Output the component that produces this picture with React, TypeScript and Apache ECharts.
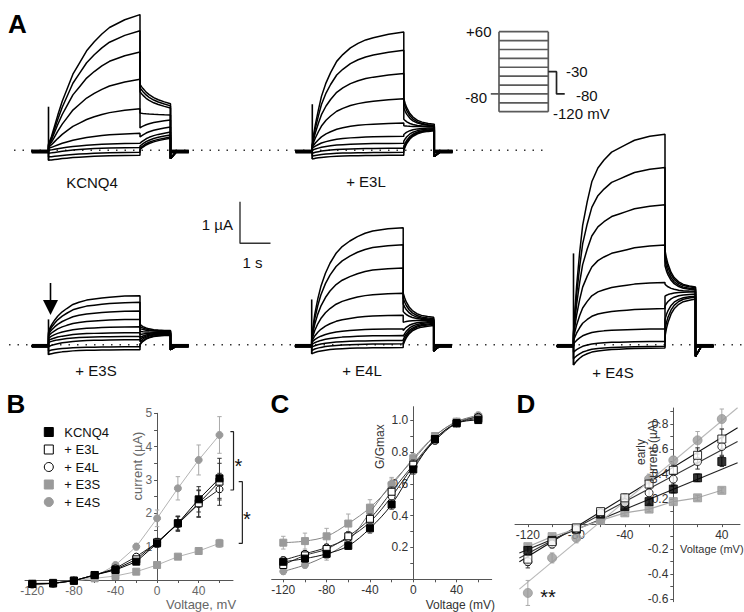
import React, { useEffect, useRef } from "react";
import * as echarts from "echarts";

const FONT = "'Liberation Sans', Arial, Helvetica, sans-serif";

// ---------------- Panel A: current traces ----------------
const stepVoltages = [-120, -100, -80, -60, -40, -20, 0, 20, 40, 60];
const stepTimes = [0, 0.05, 0.1, 0.2, 0.3, 0.45, 0.6, 0.8, 1.0, 1.25, 1.5, 1.75, 2.0, 2.5, 3.0];
const tailTimes = [0, 0.05, 0.1, 0.2, 0.3, 0.45, 0.6, 0.8, 1.0];

// KCNQ4 (µA, one value per sweep -120..+60 mV)
const kcnq4Start = [-0.24, -0.16, -0.07, 0.0, 0.05, 0.08, 0.1, 0.12, 0.13, 0.15];
const kcnq4End = [-0.12, -0.05, 0.07, 0.17, 0.41, 1.0, 1.71, 2.37, 2.88, 3.27];
const kcnq4TailStart = [0.02, 0.05, 0.1, 0.17, 0.32, 0.54, 0.9, 1.41, 1.51, 1.59];
const kcnq4TailEnd = [0.29, 0.32, 0.37, 0.44, 0.56, 0.73, 0.85, 1.02, 1.07, 1.12];
const kcnq4Shape = [0, 0.03, 0.06, 0.14, 0.22, 0.33, 0.42, 0.54, 0.62, 0.72, 0.79, 0.85, 0.9, 0.96, 1.0];
const kcnq4Tail = [0, 0.12, 0.22, 0.4, 0.53, 0.68, 0.79, 0.9, 1.0];
const kcnq4Spike = [-0.24, 1.05];

// + E3L
const e3lStart = [-0.21, -0.14, -0.07, 0.0, 0.05, 0.07, 0.09, 0.11, 0.12, 0.13];
const e3lEnd = [-0.12, -0.05, 0.05, 0.17, 0.34, 0.66, 1.24, 1.85, 2.41, 2.85];
const e3lTailStart = [0, 0.03, 0.1, 0.22, 0.38, 0.59, 0.75, 1.02, 1.15, 1.24];
const e3lTailEnd = [0.47, 0.49, 0.5, 0.52, 0.54, 0.57, 0.57, 0.59, 0.6, 0.63];
const e3lShape = [0, 0.1, 0.18, 0.31, 0.43, 0.55, 0.64, 0.74, 0.8, 0.86, 0.9, 0.93, 0.95, 0.98, 1.0];
const e3lTail = [0, 0.2, 0.36, 0.58, 0.72, 0.85, 0.92, 0.97, 1.0];
const e3lSpike = [-0.21, 1.11];

// + E3S
const e3sStart = [-0.24, -0.15, -0.05, 0.05, 0.1, 0.15, 0.2, 0.24, 0.27, 0.3];
const e3sEnd = [-0.12, -0.05, 0.12, 0.2, 0.29, 0.43, 0.61, 0.81, 1.02, 1.18];
const e3sTailStart = [0, 0.02, 0.07, 0.12, 0.17, 0.24, 0.32, 0.39, 0.44, 0.49];
const e3sTailEnd = [0.23, 0.24, 0.26, 0.27, 0.28, 0.29, 0.3, 0.32, 0.33, 0.34];
const e3sShape = [0, 0.12, 0.2, 0.33, 0.44, 0.56, 0.65, 0.76, 0.82, 0.88, 0.91, 0.94, 0.96, 0.99, 1.0];
const e3sTail = [0, 0.2, 0.36, 0.58, 0.72, 0.85, 0.92, 0.97, 1.0];
const e3sSpike = [-0.24, 0.61];

// + E4L
const e4lStart = [-0.22, -0.14, -0.06, 0.0, 0.05, 0.07, 0.09, 0.11, 0.12, 0.14];
const e4lEnd = [-0.07, 0.02, 0.1, 0.22, 0.38, 0.71, 1.24, 1.85, 2.41, 2.82];
const e4lTailStart = [0, 0.05, 0.12, 0.2, 0.34, 0.54, 0.8, 0.98, 1.12, 1.24];
const e4lTailEnd = [0.46, 0.49, 0.51, 0.54, 0.56, 0.59, 0.6, 0.61, 0.63, 0.66];
const e4lShape = [0, 0.12, 0.22, 0.36, 0.47, 0.59, 0.68, 0.77, 0.83, 0.88, 0.92, 0.95, 0.97, 0.99, 1.0];
const e4lTail = [0, 0.2, 0.36, 0.58, 0.72, 0.85, 0.92, 0.97, 1.0];
const e4lSpike = [-0.22, 1.09];

// + E4S
const e4sStart = [-0.49, -0.34, -0.18, 0.02, 0.1, 0.16, 0.2, 0.24, 0.27, 0.3];
const e4sEnd = [-0.08, -0.04, 0.08, 0.38, 0.87, 1.5, 2.4, 3.37, 4.27, 5.07];
const e4sTailStart = [0.2, 0.37, 0.61, 0.93, 1.17, 1.46, 1.9, 2.02, 2.15, 2.27];
const e4sTailEnd = [1.1, 1.15, 1.17, 1.22, 1.27, 1.29, 1.32, 1.34, 1.37, 1.39];
const e4sShape = [0, 0.12, 0.23, 0.4, 0.54, 0.66, 0.76, 0.83, 0.87, 0.91, 0.93, 0.95, 0.97, 0.99, 1.0];
const e4sTail = [0, 0.22, 0.38, 0.6, 0.74, 0.86, 0.93, 0.97, 1.0];
const e4sSpike = [-0.49, 2.2];

// protocol (mV)
const protocolHold = -80;
const protocolTail = -30;

// ---------------- Panel B: steady-state current (µA) ----------------
const ivVoltages = [-120, -100, -80, -60, -40, -20, 0, 20, 40, 60];
const bKCNQ4 = [-0.12, -0.1, -0.02, 0.15, 0.3, 0.55, 1.1, 1.7, 2.42, 3.05];
const bE3L = [-0.12, -0.1, -0.02, 0.15, 0.32, 0.62, 1.13, 1.7, 2.3, 2.95];
const bE4L = [-0.12, -0.1, -0.02, 0.15, 0.35, 0.7, 1.12, 1.68, 2.28, 2.72];
const bE3S = [-0.1, -0.08, -0.03, 0.05, 0.12, 0.25, 0.45, 0.7, 0.87, 1.1];
const bE4S = [-0.15, -0.12, -0.02, 0.1, 0.45, 1.0, 1.85, 2.75, 3.6, 4.35];
const bErrKCNQ4 = [0.03, 0.03, 0.03, 0.04, 0.05, 0.07, 0.12, 0.2, 0.38, 0.6];
const bErrE3L = [0.03, 0.03, 0.03, 0.04, 0.05, 0.07, 0.12, 0.22, 0.4, 0.55];
const bErrE4L = [0.03, 0.03, 0.03, 0.04, 0.05, 0.07, 0.12, 0.22, 0.4, 0.48];
const bErrE3S = [0.02, 0.02, 0.02, 0.02, 0.03, 0.03, 0.05, 0.05, 0.06, 0.12];
const bErrE4S = [0.03, 0.03, 0.03, 0.04, 0.06, 0.1, 0.25, 0.35, 0.45, 0.55];
const bBracket1 = [2.7, 4.45];
const bBracket2 = [1.1, 2.95];

// ---------------- Panel C: G/Gmax ----------------
const cKCNQ4 = [0.11, 0.13, 0.16, 0.21, 0.32, 0.47, 0.69, 0.88, 0.98, 1.0];
const cE3L = [0.09, 0.15, 0.19, 0.27, 0.38, 0.55, 0.72, 0.88, 0.98, 1.01];
const cE4L = [0.12, 0.16, 0.2, 0.26, 0.36, 0.52, 0.71, 0.87, 0.98, 1.02];
const cE3S = [0.23, 0.24, 0.27, 0.35, 0.45, 0.59, 0.76, 0.9, 0.99, 1.02];
const cE4S = [0.05, 0.09, 0.15, 0.24, 0.42, 0.6, 0.75, 0.9, 0.99, 1.03];
const cErrKCNQ4 = [0.02, 0.02, 0.02, 0.02, 0.03, 0.03, 0.03, 0.02, 0.02, 0.02];
const cErrE3L = [0.02, 0.02, 0.02, 0.03, 0.03, 0.03, 0.03, 0.02, 0.02, 0.02];
const cErrE4L = [0.02, 0.02, 0.02, 0.03, 0.03, 0.03, 0.03, 0.02, 0.02, 0.02];
const cErrE3S = [0.04, 0.05, 0.05, 0.06, 0.05, 0.04, 0.03, 0.02, 0.02, 0.02];
const cErrE4S = [0.02, 0.02, 0.03, 0.03, 0.05, 0.04, 0.03, 0.02, 0.02, 0.02];

// ---------------- Panel D: early current (µA) ----------------
const earlyVoltages = [-120, -100, -80, -60, -40, -20, 0, 20, 40];
const dKCNQ4 = [-0.21, -0.13, -0.04, 0.08, 0.14, 0.18, 0.28, 0.37, 0.5];
const dE3L = [-0.28, -0.14, -0.03, 0.1, 0.21, 0.32, 0.43, 0.55, 0.68];
const dE4L = [-0.3, -0.16, -0.04, 0.09, 0.17, 0.25, 0.36, 0.5, 0.62];
const dE3S = [-0.18, -0.1, -0.04, 0.03, 0.09, 0.12, 0.18, 0.21, 0.27];
const dE4S = [-0.55, -0.27, -0.11, 0.04, 0.2, 0.36, 0.51, 0.67, 0.84];
const dErrKCNQ4 = [0.03, 0.02, 0.02, 0.02, 0.02, 0.02, 0.03, 0.03, 0.04];
const dErrE3L = [0.05, 0.03, 0.02, 0.02, 0.03, 0.03, 0.04, 0.06, 0.08];
const dErrE4L = [0.05, 0.03, 0.02, 0.02, 0.03, 0.03, 0.04, 0.06, 0.07];
const dErrE3S = [0.02, 0.02, 0.02, 0.02, 0.02, 0.02, 0.02, 0.02, 0.02];
const dErrE4S = [0.1, 0.04, 0.04, 0.03, 0.03, 0.04, 0.03, 0.07, 0.08];
const dFitVoltages = [-127, 53];
const dFitKCNQ4 = [-0.23, 0.49];
const dFitE3L = [-0.3, 0.77];
const dFitE4L = [-0.27, 0.66];
const dFitE4S = [-0.52, 0.93];

// ---------------- layout constants ----------------
const PX_PER_S = 30.5;
const PX_PER_UA = 41.5;
const T_MIN = -0.6;
const T_MAX = 4.8;
const PRE = -0.55;
const STEP_END = 3;
const TAIL_END = 4;
const POST = 4.6;
const HOLD = -0.03;

const rows = [
  { baseline: 150.3, yMin: -0.5, yMax: 3.5 },
  { baseline: 344.7, yMin: -0.7, yMax: 5.3 },
];

const cells = [
  { name: "KCNQ4", row: 0, stepX: 48.5, start: kcnq4Start, end: kcnq4End, tailStart: kcnq4TailStart, tailEnd: kcnq4TailEnd, shape: kcnq4Shape, tail: kcnq4Tail, spike: kcnq4Spike, off: -0.2 },
  { name: "+ E3L", row: 0, stepX: 312.3, start: e3lStart, end: e3lEnd, tailStart: e3lTailStart, tailEnd: e3lTailEnd, shape: e3lShape, tail: e3lTail, spike: e3lSpike, off: -0.15 },
  { name: "+ E3S", row: 1, stepX: 48.5, start: e3sStart, end: e3sEnd, tailStart: e3sTailStart, tailEnd: e3sTailEnd, shape: e3sShape, tail: e3sTail, spike: e3sSpike, off: -0.12 },
  { name: "+ E4L", row: 1, stepX: 311.7, start: e4lStart, end: e4lEnd, tailStart: e4lTailStart, tailEnd: e4lTailEnd, shape: e4lShape, tail: e4lTail, spike: e4lSpike, off: -0.15 },
  { name: "+ E4S", row: 1, stepX: 573.5, start: e4sStart, end: e4sEnd, tailStart: e4sTailStart, tailEnd: e4sTailEnd, shape: e4sShape, tail: e4sTail, spike: e4sSpike, off: -0.28 },
];

const NAMES = ["KCNQ4", "+ E3L", "+ E4L", "+ E3S", "+ E4S"];
const GRAY = "#9a9a9a";
const markerStyle: Record<string, any> = {
  KCNQ4: { symbol: "rect", itemStyle: { color: "#000", borderColor: "#000", borderWidth: 1 } },
  "+ E3L": { symbol: "rect", itemStyle: { color: "#fff", borderColor: "#000", borderWidth: 1 } },
  "+ E4L": { symbol: "circle", itemStyle: { color: "#fff", borderColor: "#000", borderWidth: 1 } },
  "+ E3S": { symbol: "rect", itemStyle: { color: GRAY, borderColor: GRAY, borderWidth: 1 } },
  "+ E4S": { symbol: "circle", itemStyle: { color: GRAY, borderColor: GRAY, borderWidth: 1 } },
};

function sweepData(c: any, i: number) {
  const pts: number[][] = [[PRE, HOLD], [0, HOLD], [0, c.start[i]]];
  stepTimes.forEach((t, k) => pts.push([t, c.start[i] + (c.end[i] - c.start[i]) * c.shape[k]]));
  pts.push([STEP_END, c.tailStart[i]]);
  tailTimes.forEach((t, k) => pts.push([STEP_END + t, c.tailStart[i] + (c.tailEnd[i] - c.tailStart[i]) * c.tail[k]]));
  pts.push([TAIL_END, c.off]);
  pts.push([TAIL_END + 0.2, HOLD]);
  pts.push([POST, HOLD]);
  return pts;
}

function errorBarSeries(gi: number, xs: number[], ys: number[], errs: number[], color: string, z: number) {
  return {
    type: "custom",
    xAxisIndex: gi,
    yAxisIndex: gi,
    silent: true,
    clip: false,
    z,
    data: xs.map((x, i) => [x, ys[i], errs[i]]),
    encode: { x: 0, y: 1 },
    renderItem: (params: any, api: any) => {
      const x = api.value(0);
      const y = api.value(1);
      const e = api.value(2);
      const top = api.coord([x, y + e]);
      const bot = api.coord([x, y - e]);
      const w = 2.2;
      const st = { stroke: color, lineWidth: 1, fill: "none" };
      return {
        type: "group",
        children: [
          { type: "line", shape: { x1: top[0], y1: top[1], x2: bot[0], y2: bot[1] }, style: st },
          { type: "line", shape: { x1: top[0] - w, y1: top[1], x2: top[0] + w, y2: top[1] }, style: st },
          { type: "line", shape: { x1: bot[0] - w, y1: bot[1], x2: bot[0] + w, y2: bot[1] }, style: st },
        ],
      };
    },
  };
}

// place an axis line (with its labels) on the other axis's zero, inside the grid
function zeroOffsetY(g: any, xMin: number, xMax: number) {
  return -((0 - xMin) / (xMax - xMin)) * g.width;
}
function zeroOffsetX(g: any, yMin: number, yMax: number) {
  return -((0 - yMin) / (yMax - yMin)) * g.height;
}

function buildOption() {
  const grid: any[] = [];
  const xAxis: any[] = [];
  const yAxis: any[] = [];
  const series: any[] = [];
  const add = (g: any, x: any, y: any) => {
    const i = grid.length;
    grid.push({ ...g, containLabel: false, outerBoundsMode: "none" });
    xAxis.push({ gridIndex: i, type: "value", splitLine: { show: false }, ...x });
    yAxis.push({ gridIndex: i, type: "value", splitLine: { show: false }, ...y });
    return i;
  };
  const lineBase = { type: "line", showSymbol: false, symbol: "none", silent: true, clip: false, animation: false };

  // ---- Row dotted baselines ----
  const rowSpans = [
    { left: 14, width: 532 },
    { left: 9, width: 735 },
  ];
  rows.forEach((r, ri) => {
    const gi = add(
      { left: rowSpans[ri].left, width: rowSpans[ri].width, top: r.baseline - r.yMax * PX_PER_UA, height: (r.yMax - r.yMin) * PX_PER_UA },
      { show: false, min: 0, max: 1 },
      { show: false, min: r.yMin, max: r.yMax }
    );
    series.push({ ...lineBase, xAxisIndex: gi, yAxisIndex: gi, z: 1, data: [[0, 0], [1, 0]], lineStyle: { color: "#333", width: 1.5, type: [1.5, 7] } });
  });

  // ---- Trace cells ----
  cells.forEach((c) => {
    const r = rows[c.row];
    const gi = add(
      {
        left: c.stepX + T_MIN * PX_PER_S,
        width: (T_MAX - T_MIN) * PX_PER_S,
        top: r.baseline - r.yMax * PX_PER_UA,
        height: (r.yMax - r.yMin) * PX_PER_UA,
      },
      { show: false, min: T_MIN, max: T_MAX },
      { show: false, min: r.yMin, max: r.yMax }
    );
    stepVoltages.forEach((v, i) => {
      series.push({ ...lineBase, name: c.name + " " + v + " mV", xAxisIndex: gi, yAxisIndex: gi, z: 3, data: sweepData(c, i), lineStyle: { color: "#000", width: 1.5 } });
    });
    series.push({ ...lineBase, xAxisIndex: gi, yAxisIndex: gi, z: 4, data: [[0, c.spike[0]], [0, c.spike[1]]], lineStyle: { color: "#000", width: 1.6 } });
    series.push({ ...lineBase, xAxisIndex: gi, yAxisIndex: gi, z: 4, data: [[PRE, HOLD], [0, HOLD]], lineStyle: { color: "#000", width: 4 } });
    series.push({ ...lineBase, xAxisIndex: gi, yAxisIndex: gi, z: 4, data: [[TAIL_END, HOLD], [POST, HOLD]], lineStyle: { color: "#000", width: 4 } });
  });

  // ---- Scale bar ----
  {
    const gi = add({ left: 240, top: 201.7, width: PX_PER_S, height: PX_PER_UA }, { show: false, min: 0, max: 1 }, { show: false, min: 0, max: 1 });
    series.push({ ...lineBase, xAxisIndex: gi, yAxisIndex: gi, z: 5, data: [[0, 1], [0, 0], [1, 0]], lineStyle: { color: "#333", width: 1.4 } });
  }

  // ---- Voltage protocol ----
  {
    const pxs = 49.3 / 3;
    const gi = add({ left: 499 - 0.5 * pxs, top: 31.7, width: 4.5 * pxs, height: 80 }, { show: false, min: -0.5, max: 4 }, { show: false, min: -120, max: 60 });
    const pst = { color: "#5a5a5a", width: 1.7 };
    stepVoltages.forEach((v) => series.push({ ...lineBase, xAxisIndex: gi, yAxisIndex: gi, data: [[0, v], [3, v]], lineStyle: pst }));
    series.push({ ...lineBase, xAxisIndex: gi, yAxisIndex: gi, data: [[0, stepVoltages[0]], [0, stepVoltages[stepVoltages.length - 1]]], lineStyle: pst });
    series.push({ ...lineBase, xAxisIndex: gi, yAxisIndex: gi, data: [[3, stepVoltages[0]], [3, stepVoltages[stepVoltages.length - 1]]], lineStyle: pst });
    series.push({ ...lineBase, xAxisIndex: gi, yAxisIndex: gi, data: [[-0.5, protocolHold], [0, protocolHold]], lineStyle: pst });
    series.push({
      ...lineBase, xAxisIndex: gi, yAxisIndex: gi,
      data: [[3, protocolTail], [3.5, protocolTail], [3.5, protocolHold], [4, protocolHold]],
      lineStyle: { color: "#222", width: 1.7 },
    });
  }

  const tick = (vals: number[]) => ({ show: true, length: 3, lineStyle: { color: "#555" }, customValues: vals });
  const lab = (color: string, vals: number[], fmt?: (v: number) => string) => ({
    color, fontSize: 12, fontFamily: FONT, margin: 5, customValues: vals, ...(fmt ? { formatter: fmt } : {}),
  });
  const aLine = { show: true, onZero: false, lineStyle: { color: "#555", width: 1 } };
  const fmt1 = (v: number) => v.toFixed(1);

  // ---- Panel B ----
  {
    const g = { left: 25, top: 413.3, width: 208, height: 166.7 };
    const xr = [-127, 73];
    const yr = [0, 5];
    const gi = add(
      g,
      { min: xr[0], max: xr[1], position: "bottom", offset: zeroOffsetX(g, yr[0], yr[1]), axisLine: aLine, axisLabel: lab("#666", [-120, -80, -40, 0, 40]), axisTick: tick([-120, -100, -80, -60, -40, -20, 0, 20, 40, 60]) },
      { min: yr[0], max: yr[1], position: "left", offset: zeroOffsetY(g, xr[0], xr[1]), axisLine: aLine, axisLabel: lab("#666", [1, 2, 3, 4, 5]), axisTick: tick([0.5, 1, 1.5, 2, 2.5, 3, 3.5, 4, 4.5, 5]) }
    );
    const bData: Record<string, number[]> = { KCNQ4: bKCNQ4, "+ E3L": bE3L, "+ E4L": bE4L, "+ E3S": bE3S, "+ E4S": bE4S };
    const bErr: Record<string, number[]> = { KCNQ4: bErrKCNQ4, "+ E3L": bErrE3L, "+ E4L": bErrE4L, "+ E3S": bErrE3S, "+ E4S": bErrE4S };
    const lineColor: Record<string, string> = { KCNQ4: "#000", "+ E3L": "#111", "+ E4L": "#222", "+ E3S": "#b3b3b3", "+ E4S": "#b3b3b3" };
    const order = ["+ E3S", "+ E4S", "+ E4L", "+ E3L", "KCNQ4"];
    order.forEach((n, k) => {
      const errColor = n === "+ E3S" || n === "+ E4S" ? "#aaa" : "#333";
      series.push(errorBarSeries(gi, ivVoltages, bData[n], bErr[n], errColor, 6 + k));
      series.push({
        type: "line", name: n, xAxisIndex: gi, yAxisIndex: gi, clip: false, silent: true, z: 7 + k,
        data: ivVoltages.map((v, i) => [v, bData[n][i]]),
        symbol: markerStyle[n].symbol, symbolSize: 7, showSymbol: true,
        itemStyle: markerStyle[n].itemStyle,
        lineStyle: { color: lineColor[n], width: 1 },
      });
    });
    // significance brackets: hidden overlay with the same current scale, wider voltage range
    const pxPerMv = g.width / (xr[1] - xr[0]);
    const og = { left: g.left, top: g.top, width: g.width + 30, height: g.height };
    const oi = add(og, { show: false, min: xr[0], max: xr[0] + og.width / pxPerMv }, { show: false, min: yr[0], max: yr[1] });
    const brStyle = { color: "#222", width: 1.2 };
    series.push({ ...lineBase, xAxisIndex: oi, yAxisIndex: oi, z: 10, data: [[70.5, bBracket1[1]], [73.5, bBracket1[1]], [73.5, bBracket1[0]], [70.5, bBracket1[0]]], lineStyle: brStyle });
    series.push({ ...lineBase, xAxisIndex: oi, yAxisIndex: oi, z: 10, data: [[78.5, bBracket2[1]], [82, bBracket2[1]], [82, bBracket2[0]], [78.5, bBracket2[0]]], lineStyle: brStyle });
  }

  // ---- Panel C ----
  {
    const g = { left: 271.7, top: 406.7, width: 220, height: 172.6 };
    const xr = [-130.7, 72.4];
    const yr = [0, 1.084];
    const gi = add(
      g,
      { min: xr[0], max: xr[1], position: "bottom", offset: zeroOffsetX(g, yr[0], yr[1]), axisLine: aLine, axisLabel: lab("#333", [-120, -80, -40, 0, 40]), axisTick: tick([-120, -100, -80, -60, -40, -20, 0, 20, 40, 60]) },
      { min: yr[0], max: yr[1], position: "left", offset: zeroOffsetY(g, xr[0], xr[1]), axisLine: aLine, axisLabel: lab("#333", [0.2, 0.4, 0.6, 0.8, 1.0], fmt1), axisTick: tick([0.1, 0.2, 0.3, 0.4, 0.5, 0.6, 0.7, 0.8, 0.9, 1.0]) }
    );
    const cData: Record<string, number[]> = { KCNQ4: cKCNQ4, "+ E3L": cE3L, "+ E4L": cE4L, "+ E3S": cE3S, "+ E4S": cE4S };
    const cErr: Record<string, number[]> = { KCNQ4: cErrKCNQ4, "+ E3L": cErrE3L, "+ E4L": cErrE4L, "+ E3S": cErrE3S, "+ E4S": cErrE4S };
    const lineColor: Record<string, string> = { KCNQ4: "#111", "+ E3L": "#333", "+ E4L": "#222", "+ E3S": "#888", "+ E4S": "#777" };
    const order = ["+ E3S", "+ E4S", "+ E4L", "+ E3L", "KCNQ4"];
    order.forEach((n, k) => {
      const errColor = n === "+ E3S" || n === "+ E4S" ? "#aaa" : "#444";
      series.push(errorBarSeries(gi, ivVoltages, cData[n], cErr[n], errColor, 6 + k));
      series.push({
        type: "line", name: n, xAxisIndex: gi, yAxisIndex: gi, clip: false, silent: true, z: 7 + k,
        data: ivVoltages.map((v, i) => [v, cData[n][i]]),
        smooth: 0.35,
        symbol: markerStyle[n].symbol, symbolSize: 7, showSymbol: true,
        itemStyle: markerStyle[n].itemStyle,
        lineStyle: { color: lineColor[n], width: 1 },
      });
    });
  }

  // ---- Panel D ----
  {
    const g = { left: 515, top: 408, width: 225, height: 193.7 };
    const xr = [-130.6, 55];
    const yr = [-0.62, 0.928];
    const gi = add(
      g,
      { min: xr[0], max: xr[1], position: "bottom", offset: zeroOffsetX(g, yr[0], yr[1]), axisLine: aLine, axisLabel: lab("#333", [-120, -80, -40, 40]), axisTick: tick([-120, -100, -80, -60, -40, -20, 0, 20, 40]) },
      { min: yr[0], max: yr[1], position: "left", offset: zeroOffsetY(g, xr[0], xr[1]), axisLine: aLine, axisLabel: lab("#333", [-0.6, -0.4, -0.2, 0.2, 0.4, 0.6, 0.8], fmt1), axisTick: tick([-0.6, -0.5, -0.4, -0.3, -0.2, -0.1, 0.1, 0.2, 0.3, 0.4, 0.5, 0.6, 0.7, 0.8, 0.9]) }
    );
    const dData: Record<string, number[]> = { KCNQ4: dKCNQ4, "+ E3L": dE3L, "+ E4L": dE4L, "+ E3S": dE3S, "+ E4S": dE4S };
    const dErr: Record<string, number[]> = { KCNQ4: dErrKCNQ4, "+ E3L": dErrE3L, "+ E4L": dErrE4L, "+ E3S": dErrE3S, "+ E4S": dErrE4S };
    const fits: Record<string, number[]> = { KCNQ4: dFitKCNQ4, "+ E3L": dFitE3L, "+ E4L": dFitE4L, "+ E4S": dFitE4S };
    const fitColor: Record<string, string> = { KCNQ4: "#222", "+ E3L": "#111", "+ E4L": "#333", "+ E4S": "#b8b8b8" };
    Object.keys(fits).forEach((n) => {
      series.push({ ...lineBase, xAxisIndex: gi, yAxisIndex: gi, z: 4, data: dFitVoltages.map((v, i) => [v, fits[n][i]]), lineStyle: { color: fitColor[n], width: 1.1 } });
    });
    series.push({ ...lineBase, xAxisIndex: gi, yAxisIndex: gi, z: 4, data: earlyVoltages.map((v, i) => [v, dE3S[i]]), lineStyle: { color: "#aaa", width: 1.1 } });
    const order = ["+ E3S", "+ E4S", "KCNQ4", "+ E4L", "+ E3L"];
    order.forEach((n, k) => {
      const errColor = n === "+ E3S" || n === "+ E4S" ? "#aaa" : "#333";
      series.push(errorBarSeries(gi, earlyVoltages, dData[n], dErr[n], errColor, 6 + k));
      series.push({
        type: "scatter", name: n, xAxisIndex: gi, yAxisIndex: gi, clip: false, silent: true, z: 7 + k,
        data: earlyVoltages.map((v, i) => [v, dData[n][i]]),
        symbol: markerStyle[n].symbol, symbolSize: n === "+ E4S" ? 9 : 8,
        itemStyle: markerStyle[n].itemStyle,
      });
    });
  }

  const txt = (text: string, x: number, y: number, size: number, opts: any = {}) => ({
    type: "text",
    x,
    y,
    rotation: opts.rotation || 0,
    z: 100,
    silent: true,
    style: {
      text,
      fill: opts.fill || "#111",
      fontSize: size,
      fontFamily: FONT,
      fontWeight: opts.bold ? "bold" : "normal",
      align: opts.align || "center",
      verticalAlign: "middle",
      lineHeight: opts.lineHeight,
    },
  });

  const graphic: any[] = [
    // panel letters
    txt("A", 17.5, 24, 26, { bold: true, fill: "#000" }),
    txt("B", 16, 404, 26, { bold: true, fill: "#000" }),
    txt("C", 280, 404, 26, { bold: true, fill: "#000" }),
    txt("D", 526, 404, 26, { bold: true, fill: "#000" }),
    // trace labels
    txt("KCNQ4", 92, 182, 15),
    txt("+ E3L", 366, 181, 15),
    txt("+ E3S", 96, 370, 15),
    txt("+ E4L", 362, 370, 15),
    txt("+ E4S", 613, 372, 15),
    // scale bar
    txt("1 \u00b5A", 233, 224, 15, { align: "right" }),
    txt("1 s", 252.5, 262.5, 15),
    // protocol labels
    txt("+60", 491.5, 31.5, 15, { align: "right" }),
    txt("-80", 487, 97, 15, { align: "right" }),
    txt("-30", 566, 71.5, 15, { align: "left" }),
    txt("-80", 576, 95, 15, { align: "left" }),
    txt("-120 mV", 553, 113, 15, { align: "left" }),
    // arrow (E3S early current)
    { type: "line", z: 100, silent: true, shape: { x1: 50.5, y1: 283, x2: 50.5, y2: 302 }, style: { stroke: "#000", lineWidth: 1.6 } },
    { type: "polygon", z: 100, silent: true, shape: { points: [[43, 300], [58, 300], [50.5, 315]] }, style: { fill: "#000" } },
    // B titles & stars
    txt("current (\u00b5A)", 137, 466, 13, { rotation: Math.PI / 2, fill: "#666" }),
    txt("Voltage, mV", 201, 604, 13, { fill: "#666" }),
    txt("*", 238.5, 466, 20, { fill: "#111" }),
    txt("*", 247, 519, 20, { fill: "#111" }),
    // C titles
    txt("G/Gmax", 380, 446.7, 12, { rotation: Math.PI / 2, fill: "#333" }),
    txt("Voltage (mV)", 495, 604.5, 12, { align: "right", fill: "#333" }),
    // D titles
    txt("early\ncurrent (\u00b5A)", 647, 452, 12, { rotation: Math.PI / 2, fill: "#333", lineHeight: 12 }),
    txt("Voltage (mV)", 680, 548.5, 11, { align: "left", fill: "#333" }),
    txt("**", 548, 597, 20, { fill: "#111" }),
  ];

  return {
    animation: false,
    backgroundColor: "#fff",
    textStyle: { fontFamily: FONT },
    grid,
    xAxis,
    yAxis,
    series,
    graphic,
    legend: {
      show: true,
      orient: "vertical",
      left: 38.8,
      top: 420.5,
      itemWidth: 9,
      itemHeight: 9,
      itemGap: 4.5,
      selectedMode: false,
      textStyle: { fontSize: 13, fontFamily: FONT, color: "#111", padding: [0, 0, 0, 6] },
      data: NAMES.map((n) => ({ name: n, icon: markerStyle[n].symbol, itemStyle: markerStyle[n].itemStyle })),
    },
  };
}

export default function App() {
  const ref = useRef<HTMLDivElement>(null);
  useEffect(() => {
    const el = ref.current;
    if (!el) return;
    const chart = echarts.init(el, null, { renderer: "svg" });
    chart.setOption(buildOption() as any);
    return () => {
      chart.dispose();
    };
  }, []);
  return (
    <div
      ref={ref}
      style={{ position: "fixed", left: 0, top: 0, width: 744, height: 612, background: "#fff" }}
    />
  );
}
